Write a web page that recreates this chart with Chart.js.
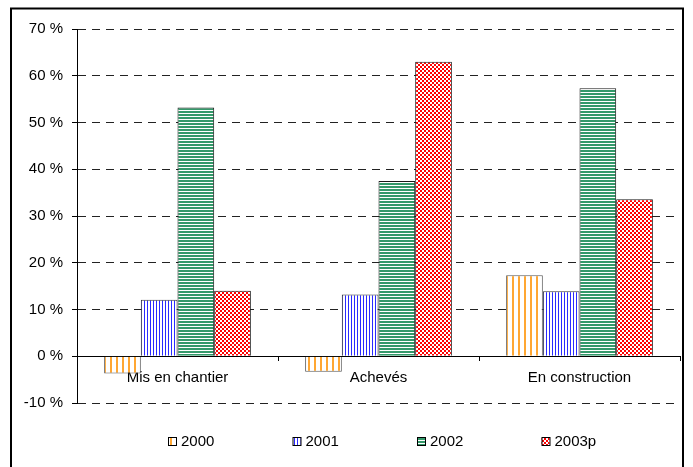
<!DOCTYPE html>
<html>
<head>
<meta charset="utf-8">
<script src="https://cdn.jsdelivr.net/npm/chart.js@4/dist/chart.umd.min.js"></script>
<style>
  html, body { margin: 0; padding: 0; background: #fff; }
  #wrap { width: 693px; height: 467px; position: relative; }
</style>
</head>
<body>
<div id="wrap"><canvas id="c" width="693" height="467"></canvas></div>
<script>
// Categories and yearly growth rates (%)
const categories = ['Mis en chantier', 'Achevés', 'En construction'];
const years = ['2000', '2001', '2002', '2003p'];
const values2000 = [-3.7, -3.3, 17.3];
const values2001 = [12.1, 13.2, 13.9];
const values2002 = [53.2, 37.5, 57.3];
const values2003p = [14.0, 63.0, 33.6];
const yTicks = [-10, 0, 10, 20, 30, 40, 50, 60, 70];

const FONT = 'Liberation Sans, Arial, sans-serif';

// Hatched fills built on small tiles
function makePattern(kind) {
  const t = document.createElement('canvas');
  const ctx = t.getContext('2d');
  if (kind === 'vOrange') {
    t.width = 6; t.height = 6;
    ctx.fillStyle = '#ffffff'; ctx.fillRect(0, 0, 6, 6);
    ctx.fillStyle = '#ffa733'; ctx.fillRect(2, 0, 2, 6);
  } else if (kind === 'vBlue') {
    t.width = 3; t.height = 3;
    ctx.fillStyle = '#ffffff'; ctx.fillRect(0, 0, 3, 3);
    ctx.fillStyle = '#2a2aff'; ctx.fillRect(0, 0, 1, 3);
  } else if (kind === 'hGreen') {
    t.width = 3; t.height = 3;
    ctx.fillStyle = '#ffffff'; ctx.fillRect(0, 0, 3, 3);
    ctx.fillStyle = '#33996a'; ctx.fillRect(0, 0, 3, 2);
  } else {
    t.width = 4; t.height = 4;
    ctx.fillStyle = '#ff0000'; ctx.fillRect(0, 0, 4, 4);
    ctx.fillStyle = '#ffffff';
    ctx.fillRect(0, 0, 2, 2); ctx.fillRect(2, 2, 2, 2);
  }
  return document.getElementById('c').getContext('2d').createPattern(t, 'repeat');
}

const fills = [makePattern('vOrange'), makePattern('vBlue'), makePattern('hGreen'), makePattern('check')];
const borders = ['#555555', '#333333', '#1a1a1a', '#1a1a1a'];
const series = [values2000, values2001, values2002, values2003p];

// Outer frame around the whole chart
const framePlugin = {
  id: 'frame',
  afterDraw(chart) {
    const ctx = chart.ctx;
    ctx.save();
    ctx.strokeStyle = '#000';
    ctx.lineWidth = 2;
    ctx.strokeRect(11, 8.5, 672, 470);
    ctx.restore();
  }
};

// Legend row under the plot
const legendPlugin = {
  id: 'rowLegend',
  afterDraw(chart) {
    const ctx = chart.ctx;
    ctx.save();
    ctx.font = '15px ' + FONT;
    ctx.textBaseline = 'middle';
    ctx.fillStyle = '#000';
    const y = 441;
    chart.data.datasets.forEach((ds, i) => {
      const x = 168 + i * 124.5;
      ctx.fillStyle = ds.backgroundColor;
      ctx.fillRect(x, y - 4, 8, 8);
      ctx.strokeStyle = '#000';
      ctx.lineWidth = 1;
      ctx.strokeRect(x + 0.5, y - 3.5, 8, 8);
      ctx.fillStyle = '#000';
      ctx.fillText(ds.label, x + 13, y + 1);
    });
    ctx.restore();
  }
};

new Chart(document.getElementById('c'), {
  type: 'bar',
  data: {
    labels: categories,
    datasets: years.map((yr, i) => ({
      label: yr,
      data: series[i],
      backgroundColor: fills[i],
      borderColor: borders[i],
      borderWidth: 1,
      categoryPercentage: 0.73,
      barPercentage: 1.0
    }))
  },
  options: {
    responsive: false,
    animation: false,
    devicePixelRatio: 1,
    layout: { padding: { top: 29, right: 13, bottom: 64, left: 0 } },
    plugins: { legend: { display: false }, tooltip: { enabled: false } },
    scales: {
      x: {
        position: { y: 0 },
        grid: { display: true, drawOnChartArea: false, drawTicks: true, tickLength: 4, color: '#000', offset: true },
        border: { display: true, color: '#000', width: 1 },
        ticks: { color: '#000', font: { family: FONT, size: 15 }, padding: 9, maxRotation: 0 }
      },
      y: {
        min: -10,
        max: 70,
        afterFit(scale) { scale.width = 77; },
        afterBuildTicks(scale) { scale.ticks = yTicks.map(v => ({ value: v })); },
        grid: { color: '#222', lineWidth: 1, tickLength: 5, tickColor: '#000' },
        border: { display: true, color: '#000', width: 1, dash: [8, 6] },
        ticks: {
          color: '#000',
          font: { family: FONT, size: 15 },
          padding: 9,
          callback: v => v + ' %'
        }
      }
    }
  },
  plugins: [framePlugin, legendPlugin]
});
</script>
</body>
</html>
